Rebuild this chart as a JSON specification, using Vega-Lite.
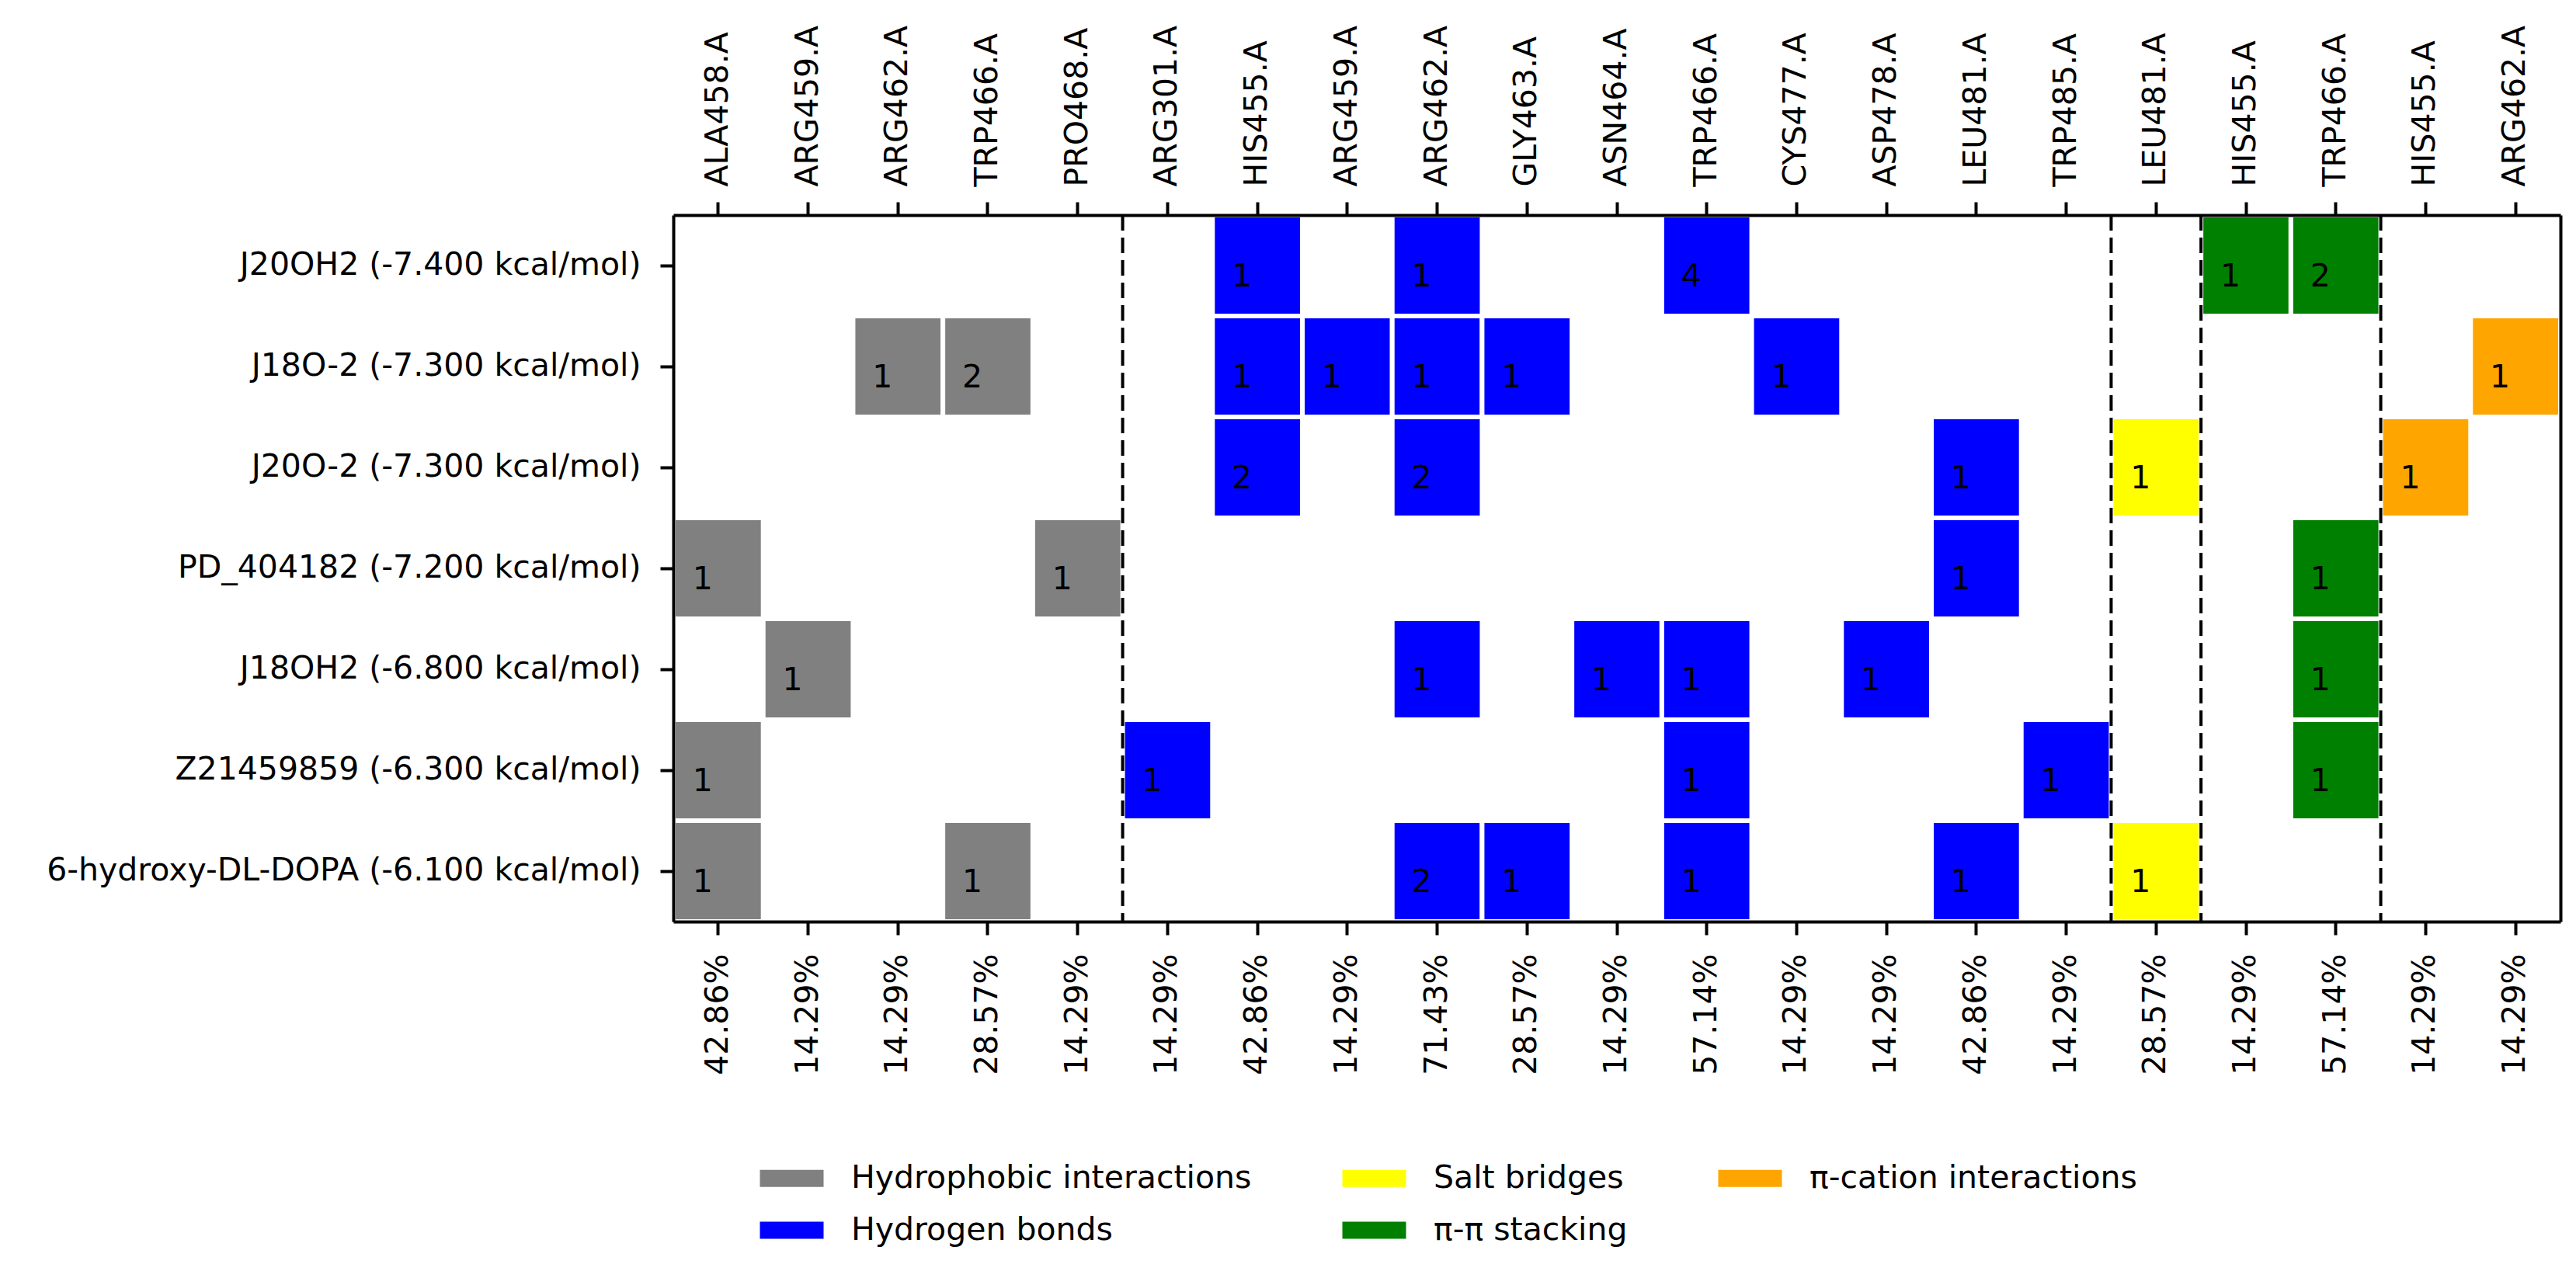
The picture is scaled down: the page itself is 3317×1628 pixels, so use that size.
{
  "$schema": "https://vega.github.io/schema/vega-lite/v6.json",
  "autosize": "none",
  "width": 2430,
  "height": 910,
  "padding": {"left": 867, "top": 277, "right": 20, "bottom": 441},
  "background": "white",
  "config": {
    "font": "DejaVu Sans",
    "view": {"stroke": null},
    "axis": {"zindex": 1, "domainColor": "black", "domainWidth": 4, "tickColor": "black", "tickWidth": 4, "tickSize": 17, "labelFont": "DejaVu Sans", "labelFontSize": 41, "labelColor": "black", "title": null, "grid": false, "labelLimit": 2000}
  },
  "datasets": {
    "cells": [
      {"m": "J20OH2 (-7.400 kcal/mol)", "c": "06|HIS455.A|42.86%", "t": "Hydrogen bonds", "n": 1},
      {"m": "J20OH2 (-7.400 kcal/mol)", "c": "08|ARG462.A|71.43%", "t": "Hydrogen bonds", "n": 1},
      {"m": "J20OH2 (-7.400 kcal/mol)", "c": "11|TRP466.A|57.14%", "t": "Hydrogen bonds", "n": 4},
      {"m": "J20OH2 (-7.400 kcal/mol)", "c": "17|HIS455.A|14.29%", "t": "π-π stacking", "n": 1},
      {"m": "J20OH2 (-7.400 kcal/mol)", "c": "18|TRP466.A|57.14%", "t": "π-π stacking", "n": 2},
      {"m": "J18O-2 (-7.300 kcal/mol)", "c": "02|ARG462.A|14.29%", "t": "Hydrophobic interactions", "n": 1},
      {"m": "J18O-2 (-7.300 kcal/mol)", "c": "03|TRP466.A|28.57%", "t": "Hydrophobic interactions", "n": 2},
      {"m": "J18O-2 (-7.300 kcal/mol)", "c": "06|HIS455.A|42.86%", "t": "Hydrogen bonds", "n": 1},
      {"m": "J18O-2 (-7.300 kcal/mol)", "c": "07|ARG459.A|14.29%", "t": "Hydrogen bonds", "n": 1},
      {"m": "J18O-2 (-7.300 kcal/mol)", "c": "08|ARG462.A|71.43%", "t": "Hydrogen bonds", "n": 1},
      {"m": "J18O-2 (-7.300 kcal/mol)", "c": "09|GLY463.A|28.57%", "t": "Hydrogen bonds", "n": 1},
      {"m": "J18O-2 (-7.300 kcal/mol)", "c": "12|CYS477.A|14.29%", "t": "Hydrogen bonds", "n": 1},
      {"m": "J18O-2 (-7.300 kcal/mol)", "c": "20|ARG462.A|14.29%", "t": "π-cation interactions", "n": 1},
      {"m": "J20O-2 (-7.300 kcal/mol)", "c": "06|HIS455.A|42.86%", "t": "Hydrogen bonds", "n": 2},
      {"m": "J20O-2 (-7.300 kcal/mol)", "c": "08|ARG462.A|71.43%", "t": "Hydrogen bonds", "n": 2},
      {"m": "J20O-2 (-7.300 kcal/mol)", "c": "14|LEU481.A|42.86%", "t": "Hydrogen bonds", "n": 1},
      {"m": "J20O-2 (-7.300 kcal/mol)", "c": "16|LEU481.A|28.57%", "t": "Salt bridges", "n": 1},
      {"m": "J20O-2 (-7.300 kcal/mol)", "c": "19|HIS455.A|14.29%", "t": "π-cation interactions", "n": 1},
      {"m": "PD_404182 (-7.200 kcal/mol)", "c": "00|ALA458.A|42.86%", "t": "Hydrophobic interactions", "n": 1},
      {"m": "PD_404182 (-7.200 kcal/mol)", "c": "04|PRO468.A|14.29%", "t": "Hydrophobic interactions", "n": 1},
      {"m": "PD_404182 (-7.200 kcal/mol)", "c": "14|LEU481.A|42.86%", "t": "Hydrogen bonds", "n": 1},
      {"m": "PD_404182 (-7.200 kcal/mol)", "c": "18|TRP466.A|57.14%", "t": "π-π stacking", "n": 1},
      {"m": "J18OH2 (-6.800 kcal/mol)", "c": "01|ARG459.A|14.29%", "t": "Hydrophobic interactions", "n": 1},
      {"m": "J18OH2 (-6.800 kcal/mol)", "c": "08|ARG462.A|71.43%", "t": "Hydrogen bonds", "n": 1},
      {"m": "J18OH2 (-6.800 kcal/mol)", "c": "10|ASN464.A|14.29%", "t": "Hydrogen bonds", "n": 1},
      {"m": "J18OH2 (-6.800 kcal/mol)", "c": "11|TRP466.A|57.14%", "t": "Hydrogen bonds", "n": 1},
      {"m": "J18OH2 (-6.800 kcal/mol)", "c": "13|ASP478.A|14.29%", "t": "Hydrogen bonds", "n": 1},
      {"m": "J18OH2 (-6.800 kcal/mol)", "c": "18|TRP466.A|57.14%", "t": "π-π stacking", "n": 1},
      {"m": "Z21459859 (-6.300 kcal/mol)", "c": "00|ALA458.A|42.86%", "t": "Hydrophobic interactions", "n": 1},
      {"m": "Z21459859 (-6.300 kcal/mol)", "c": "05|ARG301.A|14.29%", "t": "Hydrogen bonds", "n": 1},
      {"m": "Z21459859 (-6.300 kcal/mol)", "c": "11|TRP466.A|57.14%", "t": "Hydrogen bonds", "n": 1},
      {"m": "Z21459859 (-6.300 kcal/mol)", "c": "15|TRP485.A|14.29%", "t": "Hydrogen bonds", "n": 1},
      {"m": "Z21459859 (-6.300 kcal/mol)", "c": "18|TRP466.A|57.14%", "t": "π-π stacking", "n": 1},
      {"m": "6-hydroxy-DL-DOPA (-6.100 kcal/mol)", "c": "00|ALA458.A|42.86%", "t": "Hydrophobic interactions", "n": 1},
      {"m": "6-hydroxy-DL-DOPA (-6.100 kcal/mol)", "c": "03|TRP466.A|28.57%", "t": "Hydrophobic interactions", "n": 1},
      {"m": "6-hydroxy-DL-DOPA (-6.100 kcal/mol)", "c": "08|ARG462.A|71.43%", "t": "Hydrogen bonds", "n": 2},
      {"m": "6-hydroxy-DL-DOPA (-6.100 kcal/mol)", "c": "09|GLY463.A|28.57%", "t": "Hydrogen bonds", "n": 1},
      {"m": "6-hydroxy-DL-DOPA (-6.100 kcal/mol)", "c": "11|TRP466.A|57.14%", "t": "Hydrogen bonds", "n": 1},
      {"m": "6-hydroxy-DL-DOPA (-6.100 kcal/mol)", "c": "14|LEU481.A|42.86%", "t": "Hydrogen bonds", "n": 1},
      {"m": "6-hydroxy-DL-DOPA (-6.100 kcal/mol)", "c": "16|LEU481.A|28.57%", "t": "Salt bridges", "n": 1}
    ],
    "dividers": [
      {"c": "05|ARG301.A|14.29%"},
      {"c": "16|LEU481.A|28.57%"},
      {"c": "17|HIS455.A|14.29%"},
      {"c": "19|HIS455.A|14.29%"}
    ]
  },
  "resolve": {"axis": {"x": "independent", "y": "independent"}},
  "layer": [
    {
      "data": {"name": "cells"},
      "mark": {"type": "rect", "stroke": "white", "strokeWidth": 6},
      "encoding": {
        "x": {"field": "c", "type": "ordinal", "scale": {"paddingInner": 0, "paddingOuter": 0},
          "axis": {"orient": "top", "zindex": 2, "labelAngle": 270, "labelAlign": "left", "labelBaseline": "middle", "labelPadding": 20, "labelExpr": "split(datum.value, '|')[1]"}},
        "y": {"field": "m", "type": "ordinal",
          "sort": ["J20OH2 (-7.400 kcal/mol)", "J18O-2 (-7.300 kcal/mol)", "J20O-2 (-7.300 kcal/mol)", "PD_404182 (-7.200 kcal/mol)", "J18OH2 (-6.800 kcal/mol)", "Z21459859 (-6.300 kcal/mol)", "6-hydroxy-DL-DOPA (-6.100 kcal/mol)"],
          "scale": {"paddingInner": 0, "paddingOuter": 0},
          "axis": {"orient": "left", "zindex": 2, "labelPadding": 25}},
        "color": {"field": "t", "type": "nominal",
          "scale": {"domain": ["Hydrophobic interactions", "Salt bridges", "π-cation interactions", "Hydrogen bonds", "π-π stacking"],
                    "range": ["#808080", "#FFFF00", "#FFA500", "#0000FF", "#008000"]},
          "legend": {"orient": "none", "title": null, "direction": "horizontal", "columns": 3, "columnPadding": 116, "rowPadding": 25,
            "legendX": 132, "legendY": 1220, "padding": 0,
            "symbolType": "M-4.1,-1.1H4.1V1.1H-4.1Z", "symbolSize": 400, "symbolStrokeWidth": 0,
            "labelFont": "DejaVu Sans", "labelFontSize": 41, "labelColor": "black", "labelOffset": 56, "labelLimit": 2000}}
      }
    },
    {
      "data": {"name": "cells"},
      "mark": {"type": "text", "fontSize": 41, "font": "DejaVu Sans", "color": "black", "align": "center", "baseline": "alphabetic", "dx": -20, "dy": 27},
      "encoding": {
        "x": {"field": "c", "type": "ordinal",
          "axis": {"orient": "bottom", "zindex": 2, "labelAngle": 270, "labelAlign": "right", "labelBaseline": "middle", "labelPadding": 24, "labelExpr": "split(datum.value, '|')[2]"}},
        "y": {"field": "m", "type": "ordinal",
          "sort": ["J20OH2 (-7.400 kcal/mol)", "J18O-2 (-7.300 kcal/mol)", "J20O-2 (-7.300 kcal/mol)", "PD_404182 (-7.200 kcal/mol)", "J18OH2 (-6.800 kcal/mol)", "Z21459859 (-6.300 kcal/mol)", "6-hydroxy-DL-DOPA (-6.100 kcal/mol)"],
          "axis": {"orient": "right", "zindex": 2, "labels": false, "ticks": false}},
        "text": {"field": "n", "type": "quantitative"}
      }
    },
    {
      "data": {"name": "dividers"},
      "mark": {"type": "rule", "color": "black", "strokeWidth": 4, "strokeDash": [20, 9]},
      "encoding": {
        "x": {"field": "c", "type": "ordinal", "bandPosition": 0, "axis": null}
      }
    }
  ]
}
